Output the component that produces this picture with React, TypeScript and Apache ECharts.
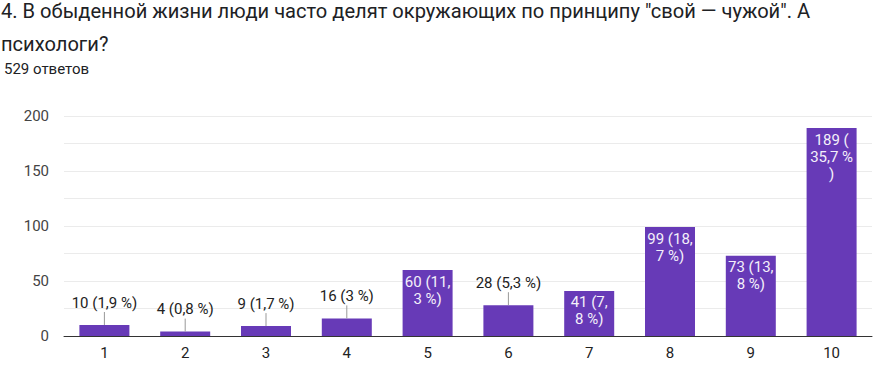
import React, { useEffect, useRef } from "react";
import * as echarts from "echarts";

const categories = ["1", "2", "3", "4", "5", "6", "7", "8", "9", "10"];
const counts = [10, 4, 9, 16, 60, 28, 41, 99, 73, 189];
const barLabels = [
  "10 (1,9 %)",
  "4 (0,8 %)",
  "9 (1,7 %)",
  "16 (3 %)",
  "60 (11,\n3 %)",
  "28 (5,3 %)",
  "41 (7,\n8 %)",
  "99 (18,\n7 %)",
  "73 (13,\n8 %)",
  "189 (\n35,7 %\n)",
];
const labelInside = [false, false, false, false, true, false, true, true, true, true];
const yTicks = [0, 50, 100, 150, 200];
const titleText =
  '4. В обыденной жизни люди часто делят окружающих по принципу "свой — чужой". А\nпсихологи?';
const subtitleText = "529 ответов";

const FONT = "Roboto, Arial, sans-serif";
const PURPLE = "#673ab7";

export default function App() {
  const ref = useRef<HTMLDivElement>(null);
  useEffect(() => {
    if (!ref.current) return;
    const chart = echarts.init(ref.current, undefined, { renderer: "svg" });
    chart.setOption({
      animation: false,
      title: [
        {
          text: titleText,
          left: 1,
          top: -6,
          padding: 0,
          textStyle: {
            fontSize: 20.1,
            fontWeight: "normal",
            lineHeight: 33,
            color: "#202124",
            fontFamily: FONT,
          },
        },
        {
          text: subtitleText,
          left: 4,
          top: 60,
          padding: 0,
          textStyle: {
            fontSize: 15,
            fontWeight: "normal",
            lineHeight: 17,
            color: "#202124",
            fontFamily: FONT,
          },
        },
      ],
      grid: { left: 64, right: 6, top: 116, bottom: 29, containLabel: false },
      xAxis: {
        type: "category",
        data: categories,
        axisLine: { lineStyle: { color: "#333", width: 1 } },
        axisTick: { show: false },
        axisLabel: { color: "#222", fontSize: 15, margin: 9, fontFamily: FONT },
      },
      yAxis: {
        type: "value",
        min: 0,
        max: 200,
        interval: 25,
        axisLine: { show: false },
        axisTick: { show: false },
        splitLine: { lineStyle: { color: "#ebebeb", width: 1 } },
        axisLabel: {
          color: "#444",
          fontSize: 15,
          margin: 15,
          fontFamily: FONT,
          formatter: (v: number) => (yTicks.indexOf(v) >= 0 ? String(v) : ""),
        },
      },
      series: [
        {
          type: "bar",
          data: counts.map((v, i) => ({
            value: v,
            label: {
              show: labelInside[i],
              position: "insideTop",
              distance: 3,
              color: "#f4f0fa",
              fontSize: 15,
              lineHeight: 17,
              fontFamily: FONT,
              formatter: () => barLabels[i],
            },
          })),
          barWidth: 50,
          itemStyle: { color: PURPLE },
        },
        {
          type: "custom",
          data: counts.map((v, i) => [i, v]),
          z: 5,
          renderItem: (params: any, api: any) => {
            const i = params.dataIndex;
            if (labelInside[i]) return null;
            const p = api.coord([api.value(0), api.value(1)]);
            const lineTop = p[1] - 13;
            return {
              type: "group",
              children: [
                {
                  type: "line",
                  shape: { x1: p[0], y1: p[1], x2: p[0], y2: lineTop },
                  style: { stroke: "#999", lineWidth: 1 },
                },
                {
                  type: "text",
                  x: p[0],
                  y: lineTop - 1,
                  style: {
                    text: barLabels[i],
                    align: "center",
                    verticalAlign: "bottom",
                    fill: "#222",
                    fontSize: 15,
                    lineHeight: 17,
                    fontFamily: FONT,
                  },
                },
              ],
            };
          },
        },
      ],
    });
    return () => chart.dispose();
  }, []);
  return (
    <div
      ref={ref}
      style={{ position: "fixed", left: 0, top: 0, width: 878, height: 365, background: "#fff" }}
    />
  );
}
